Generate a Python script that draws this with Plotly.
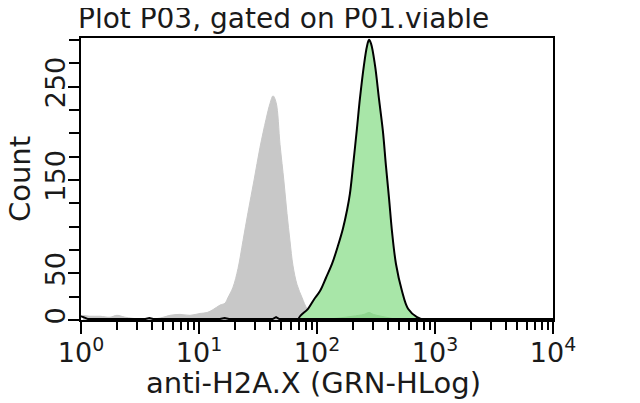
import plotly.graph_objects as go

# Gray histogram (unstained / control)
gray_x = [1.04, 1.19, 1.45, 1.76, 2.02, 2.36, 3.16, 3.85, 4.67, 5.68, 6.90, 8.39,
          10.2, 11.7, 13.1, 15.1, 16.6, 17.6, 19.4, 21.4, 23.6, 26.0, 29.3, 32.9,
          37.0, 40.0, 42.4, 45.0, 48.6, 52.5, 55.7, 59.0, 62.6, 67.7, 74.7, 82.3,
          90.7, 102, 117]
gray_y = [5, 4, 4, 3, 5, 3, 1, 1, 2, 5, 6, 5,
          7, 8, 11, 16, 18, 24, 35, 55, 85, 115, 150, 185,
          215, 232, 240, 233, 188, 148, 114, 85, 58, 38, 24, 12,
          6, 2, 0]

# Green histogram (anti-H2A.X stained)
green_x = [69.0, 71.8, 83.9, 94.3, 106, 119, 134, 151, 166, 180, 190, 202, 218,
           231, 250, 265, 276, 287, 310, 335, 362, 384, 408, 432, 467, 525,
           591, 704, 823]
green_y = [0, 4, 12, 22, 31, 45, 60, 80, 98, 118, 135, 165, 205,
           237, 273, 293, 300, 296, 273, 237, 202, 165, 130, 95, 60, 31,
           12, 3, 0]

# small dark green overlay near the baseline
dark_x = [106, 150, 200, 250, 276, 300, 350, 420, 500]
dark_y = [0, 2, 4, 6, 8, 6, 4, 2, 0]

# black trace hugging the baseline
black_x = [1.0, 1.05, 1.15, 3.5, 3.8, 4.1, 15, 16.5, 18, 42, 45, 48, 60, 10000]
black_y = [4, 3, 1, 1, 2, 1, 1, 2, 1, 1, 3, 1, 1, 1]

x_ticks = [1, 10, 100, 1000, 10000]
x_labels = ['10<sup>0</sup>', '10<sup>1</sup>', '10<sup>2</sup>', '10<sup>3</sup>', '10<sup>4</sup>']
x_minor = [m * d for d in [1, 10, 100, 1000] for m in range(2, 10)]
y_ticks = [0, 50, 150, 250]
y_minor = [25, 75, 100, 125, 175, 200, 225, 275, 300]

fig = go.Figure()

fig.add_trace(go.Scatter(x=gray_x, y=gray_y, mode='lines', fill='tozeroy',
                         fillcolor='#c8c8c8', line=dict(color='#c8c8c8', width=1, shape='spline'),
                         showlegend=False))
fig.add_trace(go.Scatter(x=green_x, y=green_y, mode='lines', fill='tozeroy',
                         fillcolor='#a8e6a8', line=dict(color='black', width=2, shape='spline'),
                         showlegend=False))
fig.add_trace(go.Scatter(x=dark_x, y=dark_y, mode='lines', fill='tozeroy',
                         fillcolor='#8fd68f', line=dict(color='#8fd68f', width=1, shape='spline'),
                         showlegend=False))
fig.add_trace(go.Scatter(x=black_x, y=black_y, mode='lines',
                         line=dict(color='black', width=2),
                         showlegend=False))

family = 'DejaVu Sans, Verdana, sans-serif'
tick_font = dict(family=family, size=27, color='#1a1a1a')

fig.update_xaxes(type='log', range=[0, 4], tickvals=x_ticks, ticktext=x_labels,
                 ticks='outside', ticklen=12, tickwidth=2, tickcolor='black',
                 minor=dict(tickvals=x_minor, ticks='outside', ticklen=8, tickwidth=1.5, tickcolor='black'),
                 showline=True, linecolor='black', linewidth=2, mirror=True,
                 showgrid=False, zeroline=False, tickfont=tick_font, automargin=False,
                 ticklabelstandoff=-4)
fig.update_yaxes(range=[0, 302], tickvals=y_ticks, ticktext=[str(v) for v in y_ticks],
                 tickangle=-90, ticks='outside', ticklen=11, tickwidth=1.5, tickcolor='black',
                 minor=dict(tickvals=y_minor, ticks='outside', ticklen=10, tickwidth=1.5, tickcolor='black'),
                 showline=True, linecolor='black', linewidth=2, mirror=True,
                 showgrid=False, zeroline=False, tickfont=tick_font, automargin=False,
                 ticklabelstandoff=-8)

# axis titles as annotations so they sit exactly where the reference has them
fig.add_annotation(text='anti-H2A.X (GRN-HLog)', xref='paper', yref='paper',
                   x=0.5, y=0, xshift=-4, yshift=-63, xanchor='center', yanchor='middle',
                   showarrow=False, font=dict(family=family, size=29, color='#1a1a1a'))
fig.add_annotation(text='Count', xref='paper', yref='paper',
                   x=0, y=0.5, xshift=-61, xanchor='center', yanchor='middle',
                   textangle=-90, showarrow=False, font=dict(family=family, size=29, color='#1a1a1a'))

# the page body adds 8px around the figure, so margins are shifted by that
fig.update_layout(
    width=624, height=392,
    margin=dict(l=73, r=79, t=30, b=80),
    plot_bgcolor='white', paper_bgcolor='white',
    title=dict(text='Plot P03, gated on P01.viable',
               font=dict(family=family, size=28, color='#1a1a1a'),
               x=70 / 624, xanchor='left', y=1, yanchor='top', pad=dict(t=0)),
)

fig.write_html("out.html")
